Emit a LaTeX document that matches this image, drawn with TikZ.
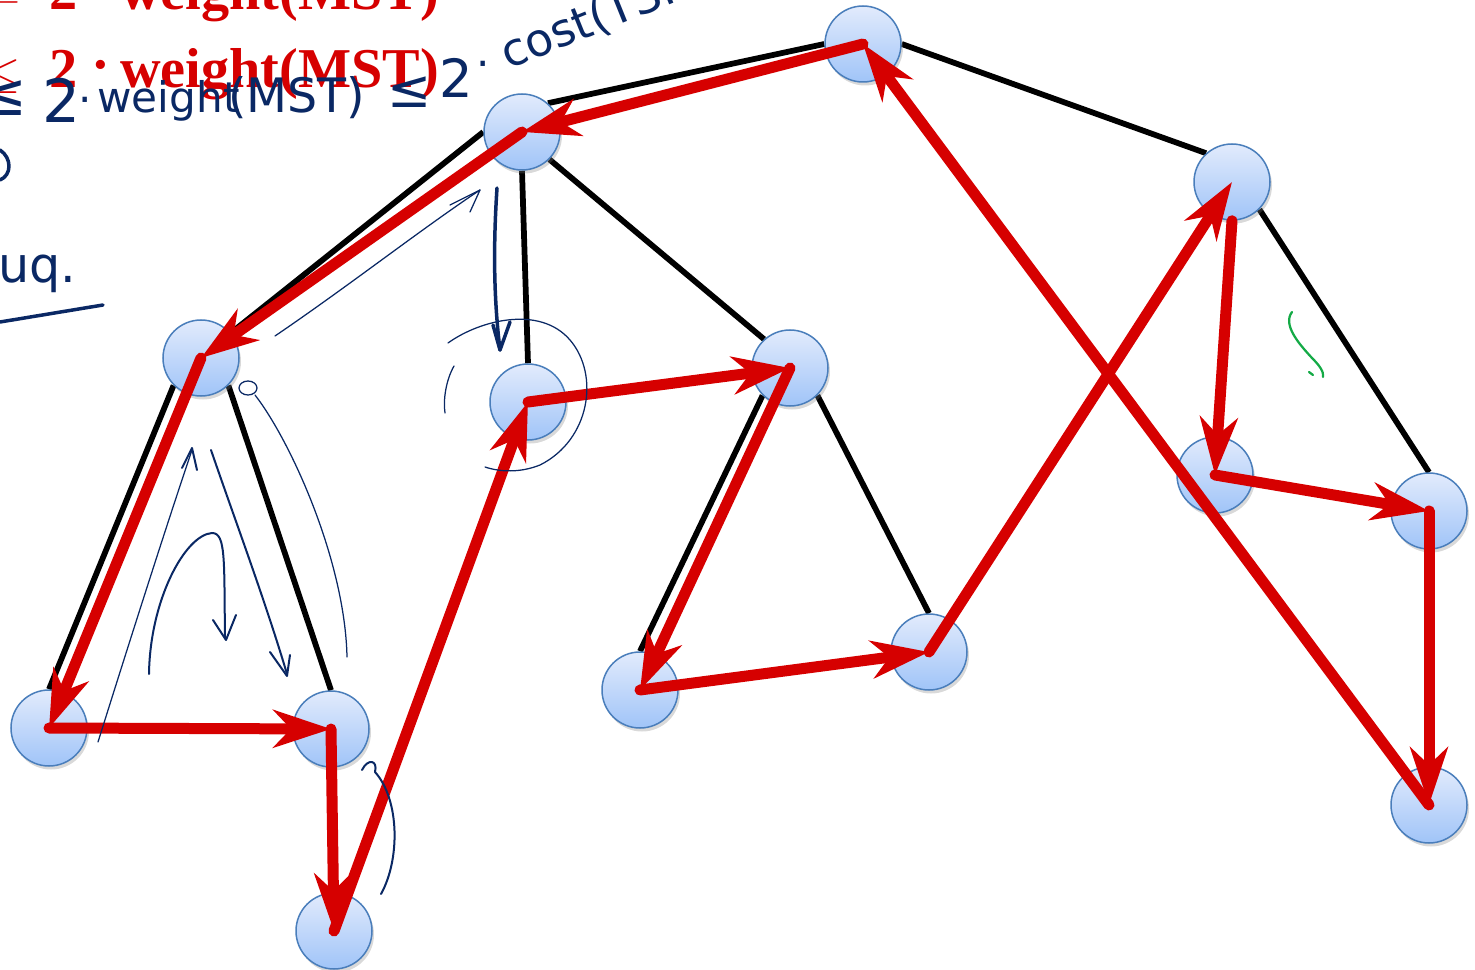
\documentclass[tikz,border=0pt]{standalone}
\usepackage{fontspec}
\setmainfont{Liberation Serif}
\newfontfamily\handfont{DejaVu Sans}
\usetikzlibrary{arrows.meta}
\usetikzlibrary{shadows}
\definecolor{tourred}{RGB}{214,0,0}
\definecolor{inkblue}{RGB}{10,40,100}
\definecolor{inkgreen}{RGB}{20,170,70}
\definecolor{vborder}{RGB}{74,126,187}
\definecolor{vtop}{RGB}{226,235,252}
\definecolor{vbottom}{RGB}{160,196,248}
\pgfdeclarelayer{background}
\pgfsetlayers{background,main}
\tikzset{
    vertex/.style={circle, draw=vborder, line width=0.3mm, minimum size=15.2mm, inner sep=0pt,
        top color=vtop, bottom color=vbottom,
        drop shadow={shadow xshift=0.4mm, shadow yshift=-0.7mm, opacity=0.3}},
    treeedge/.style={line width=1.15mm, black},
    tour/.style={line width=2.2mm, tourred, line cap=round,
        -{Stealth[length=11.5mm, width=7.5mm, inset=3.5mm]}},
    redtext/.style={text=tourred, inner sep=0pt, font=\fontsize{32}{32}\selectfont\bfseries},
    handtext/.style={text=inkblue, inner sep=0pt, font=\handfont\fontsize{24}{24}\selectfont},
    handthin/.style={draw=inkblue, line width=0.25mm, line cap=round, line join=round},
    handmid/.style={draw=inkblue, line width=0.4mm, line cap=round, line join=round},
    handthick/.style={draw=inkblue, line width=0.7mm, line cap=round, line join=round},
    greenstroke/.style={draw=inkgreen, line width=0.45mm, line cap=round}
}
\begin{document}
\begin{tikzpicture}[x=0.2mm, y=-0.2mm]
    \useasboundingbox (0,0) rectangle (1475,970);

    \node[vertex] (v1) at (863,44) {};
    \node[vertex] (v2) at (522,132) {};
    \node[vertex] (v3) at (201,358) {};
    \node[vertex] (v4) at (49,728) {};
    \node[vertex] (v5) at (331,729) {};
    \node[vertex] (v6) at (334,931) {};
    \node[vertex] (v7) at (528,402) {};
    \node[vertex] (v8) at (790,368) {};
    \node[vertex] (v9) at (640,690) {};
    \node[vertex] (v10) at (929,652) {};
    \node[vertex] (v11) at (1232,182) {};
    \node[vertex] (v12) at (1215,475) {};
    \node[vertex] (v13) at (1429,511) {};
    \node[vertex] (v14) at (1429,805) {};

    \begin{pgfonlayer}{background}
        \draw[treeedge] (v1.west) -- (v2.48);
        \draw[treeedge] (v1.east) -- (v11.132);
        \draw[treeedge] (v2.west) -- (v3.40);
        \draw[treeedge] (v2.south) -- (v7.north);
        \draw[treeedge] (v2.-45) -- (v8.132);
        \draw[treeedge] (v3.225) -- (v4.north);
        \draw[treeedge] (v3.-45) -- (v5.north);
        \draw[treeedge] (v8.225) -- (v9.north);
        \draw[treeedge] (v8.-45) -- (v10.north);
        \draw[treeedge] (v11.-45) -- (v13.north);
    \end{pgfonlayer}

    \foreach \s/\t in {v1/v2, v2/v3, v3/v4, v4/v5, v5/v6, v6/v7, v7/v8, v8/v9, v9/v10, v10/v11, v12/v13, v13/v14, v14/v1} {
        \draw[tour] (\s.center) -- (\t.center);
    }
    \draw[tour] (v11.south) -- (v12.center);

    % bound written above the tree
    \node[redtext, anchor=base] (eqa0) at (4,10) {$=$};
    \node[redtext, anchor=base west] (eqa1) at (49,10) {2};
    \node[redtext] (eqa2) at (101,-6) {·};
    \node[redtext, anchor=base west] (eqa3) at (120,10) {weight(MST)};
    \node[redtext, anchor=base] (eqb0) at (4,88) {$\leq$};
    \node[redtext, anchor=base west] (eqb1) at (49,88) {2};
    \node[redtext] (eqb2) at (101,72) {·};
    \node[redtext, anchor=base west] (eqb3) at (120,88) {weight(MST)};

    \node[handtext, font=\handfont\fontsize{34}{34}\selectfont] (hw1) at (3,98) {≤};
    \node[handtext, font=\handfont\fontsize{34}{34}\selectfont] (hw2) at (62,100) {2};
    \node[handtext] (hw3) at (85,106) {·};
    \node[handtext, anchor=base west] (hw4) at (97,113) {weight};
    \node[handtext, anchor=base west, font=\handfont\fontsize{27}{27}\selectfont] (hw5) at (228,113) {(MST)};
    \node[handtext, font=\handfont\fontsize{30}{30}\selectfont] (hw6) at (410,92) {≤};
    \node[handtext, font=\handfont\fontsize{30}{30}\selectfont] (hw7) at (456,78) {2};
    \node[handtext] (hw8) at (483,70) {·};
    \node[handtext, anchor=base west, rotate=22, font=\handfont\fontsize{26}{26}\selectfont] (hw9) at (508,70) {cost(TSP};
    \node[handtext, anchor=base west, font=\handfont\fontsize{28}{28}\selectfont] (hw10) at (-2,283) {uq.};
    \draw[handthick] (0,322) -- (103,305);
    \draw[handthick] (0,150) .. controls (12,158) and (12,175) .. (0,180);

    % strokes along the walk
    \draw[handthin] (275,336) .. controls (350,285) and (420,230) .. (480,190);
    \draw[handthin] (450,205) -- (480,190) -- (470,212);
    \draw[handthick] (497,188) .. controls (493,250) and (494,300) .. (500,350);
    \draw[handthick] (493,325) -- (500,350) -- (510,322);
    \draw[handthin] (448,343) .. controls (480,320) and (540,305) .. (570,340) .. controls (600,375) and (590,440) .. (540,465) .. controls (520,473) and (500,472) .. (485,467);
    \draw[handthin] (454,366) .. controls (446,380) and (443,400) .. (445,413);
    \draw[handthin] (98,742) .. controls (130,640) and (165,530) .. (192,450);
    \draw[handmid] (182,468) -- (192,448) -- (197,470);
    \draw[handmid] (149,674) .. controls (150,600) and (185,535) .. (212,533) .. controls (226,533) and (224,560) .. (225,638);
    \draw[handmid] (213,620) -- (226,640) -- (236,615);
    \draw[handmid] (211,450) .. controls (235,520) and (265,600) .. (287,674);
    \draw[handmid] (270,652) -- (287,676) -- (290,655);
    \draw[handthin] (248,388) ellipse [x radius=9, y radius=7];
    \draw[handthin] (255,395) .. controls (290,440) and (345,560) .. (347,657);
    \draw[handmid] (362,770) .. controls (368,758) and (378,760) .. (375,772) .. controls (400,800) and (400,860) .. (381,894);
    \draw[greenstroke] (1292,312) .. controls (1282,325) and (1300,345) .. (1312,358) .. controls (1320,366) and (1324,372) .. (1323,377);
    \draw[greenstroke] (1309,372) -- (1313,375);
\end{tikzpicture}
\end{document}
